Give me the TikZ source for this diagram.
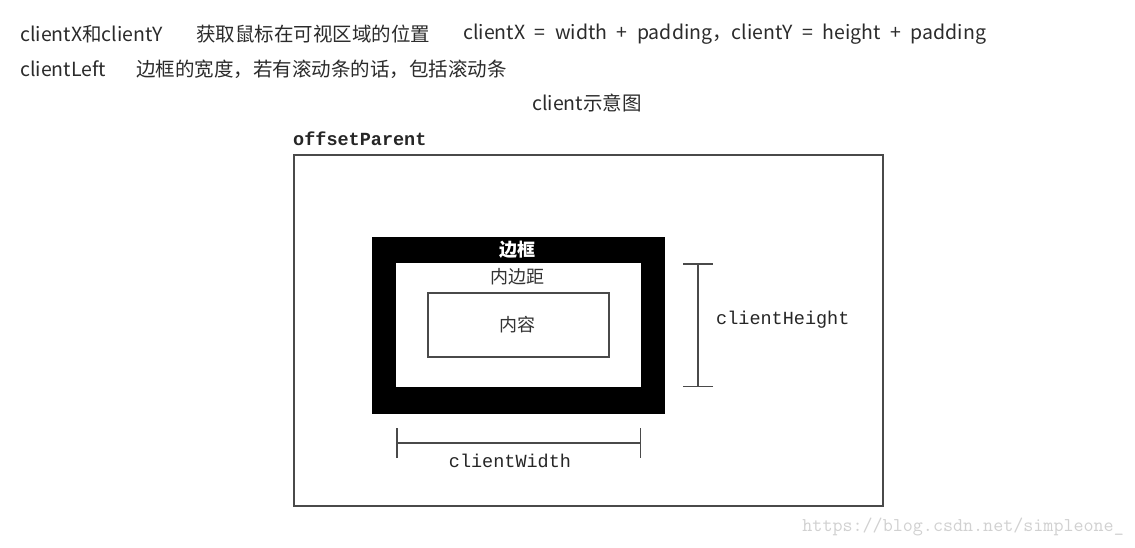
\documentclass[tikz,border=0pt]{standalone}
\usepackage{fontspec}
\usepackage{tikz}
\usetikzlibrary{arrows.meta}
\setmainfont{Noto Sans CJK SC}
\newfontfamily\codefont{Liberation Mono}
\definecolor{headtext}{HTML}{2B2B2B}
\definecolor{linegray}{HTML}{4A4A4A}

\begin{document}
\begin{tikzpicture}[x=1pt, y=-1pt,
  head/.style={anchor=west, inner sep=0pt, text=headtext, font=\fontsize{19.5}{20}\selectfont},
  code/.style={inner sep=0pt, text=black!85, font=\codefont\fontsize{18.5}{19}\selectfont},
  zh/.style={inner sep=0pt, font=\fontsize{18}{18}\selectfont},
  measure/.style={draw=linegray, line width=1.5pt, {Bar[width=30pt]}-{Bar[width=30pt]}}]
\useasboundingbox (0,0) rectangle (1135,547);
\fill [white] (0,0) rectangle (1135,547);
% header lines
\node [head] (cxy) at (20,34) {clientX和clientY};
\node [head] (cxydesc) at (196,34) {获取鼠标在可视区域的位置};
\node [head] (cxyform) at (463,34) {\spaceskip=9.5pt clientX = width + padding，clientY = height + padding};
\node [head] (cleft) at (20,69) {clientLeft};
\node [head] (cleftdesc) at (136,69) {边框的宽度，若有滚动条的话，包括滚动条};
\node [head, anchor=center] (caption) at (587,103) {client示意图};
% box model
\node [code, anchor=west, font=\codefont\bfseries\fontsize{18.5}{19}\selectfont] (parent) at (293,139) {offsetParent};
\draw [draw=linegray, line width=2pt] (294,155) rectangle (883,506);
\fill [black] (372,237) rectangle (665,414);
\fill [white] (396,263) rectangle (641,387);
\draw [draw=linegray, line width=1.3pt] (428,293) rectangle (609,357);
\node [zh, text=white, font=\bfseries\fontsize{18}{18}\selectfont] (border) at (517,250) {边框};
\node [zh, text=black!80] (padding) at (517,277) {内边距};
\node [zh, text=black!80] (content) at (517,325) {内容};
% measurements
\coordinate (htop) at (698,263);
\coordinate (hbot) at (698,387);
\draw [measure] (htop) -- (hbot);
\node [code, anchor=west] (cheight) at (716,320) {clientHeight};
\coordinate (wleft) at (396,443);
\coordinate (wright) at (641,443);
\draw [measure] (wleft) -- (wright);
\node [code] (cwidth) at (510,461) {clientWidth};
% watermark
\node [anchor=east, inner sep=0pt, text=black!18, font=\ttfamily\fontsize{19.5}{19.5}\selectfont] (mark) at (1124,527) {https://blog.csdn.net/simpleone\_};
\end{tikzpicture}
\end{document}
